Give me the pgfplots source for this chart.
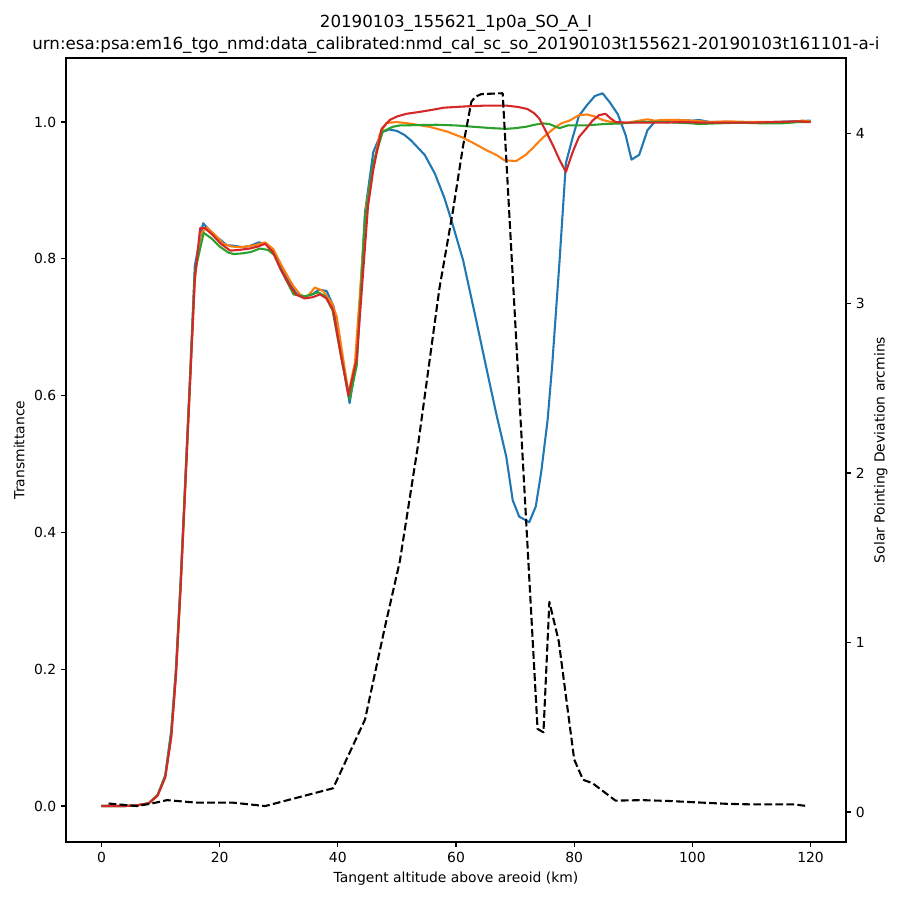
\documentclass[border=0pt]{standalone}
\usepackage{fontspec}
\setmainfont{DejaVu Sans}
\usepackage{pgfplots}
\pgfplotsset{compat=1.18}
\definecolor{cA}{HTML}{1F77B4}
\definecolor{cB}{HTML}{FF7F0E}
\definecolor{cC}{HTML}{2CA02C}
\definecolor{cD}{HTML}{D62728}
\pgfplotsset{
  myax/.style={
    at={(0,0)}, anchor=south west, scale only axis,
    width=561.6pt, height=564.48pt,
    xmin=-6, xmax=126,
    tick align=outside, major tick length=3.5pt,
    major tick style={line width=0.8pt, black},
    axis line style={line width=0.8pt},
    tick label style={font=\fontsize{10}{12}\selectfont},
    label style={font=\fontsize{10}{12}\selectfont},
    /pgf/number format/assume math mode=true,
  }
}
\begin{document}
\begin{tikzpicture}
\begin{axis}[myax, name=ax,
  ymin=-0.0526, ymax=1.0936,
  xtick={0,20,40,60,80,100,120},
  ytick={0,0.2,0.4,0.6,0.8,1.0},
  xtick pos=bottom, ytick pos=left,
  yticklabel style={/pgf/number format/.cd, fixed, fixed zerofill, precision=1},
  xlabel={Tangent altitude above areoid (km)},
  ylabel={Transmittance},
  every axis plot/.append style={no marks, line width=1.5pt, line join=round},
]
% blue
\addplot[cA] coordinates {
(0,0) (2,0) (4,0) (6,0.001) (8,0.004) (9.5,0.016) (10.8,0.045) (11.8,0.11) (12.6,0.2) (13.4,0.33) (14.2,0.48) (15.0,0.63) (15.8,0.79)
(17.2,0.852) (18.5,0.84) (19.8,0.83) (21.2,0.82) (22.5,0.819) (23.9,0.817) (25.2,0.819) (26.6,0.824) (27.9,0.822) (29.1,0.812)
(30.5,0.787) (31.8,0.765) (33.1,0.748) (34.4,0.745) (35.7,0.748) (36.8,0.755) (38.1,0.753) (39.3,0.73) (40.6,0.66) (42.0,0.589)
(43.2,0.654) (44.6,0.868) (46.0,0.956) (47.4,0.985) (48.7,0.989) (50.0,0.987) (51.3,0.981) (52.4,0.973) (54.7,0.952) (56.4,0.925)
(58.0,0.89) (59.2,0.857) (61.2,0.798) (63.4,0.711) (65.1,0.642) (66.8,0.574) (68.5,0.511) (69.6,0.447) (70.7,0.423) (72.4,0.415)
(73.5,0.438) (74.4,0.487) (75.5,0.564) (76.3,0.647) (77.5,0.794) (78.6,0.94) (79.7,0.976) (80.8,1.009) (82.2,1.025) (83.5,1.038)
(84.8,1.042) (86.1,1.028) (87.4,1.011) (88.7,0.981) (89.7,0.945) (91.0,0.952) (92.4,0.988) (93.6,1.0) (95,1.002) (97.7,1.003)
(100,1.002) (101.1,1.003) (103,1.0) (106,1.0) (110,0.999) (114,1.0) (117,1.001) (120,1.002)
};
% orange
\addplot[cB] coordinates {
(0,0) (2,0) (4,0) (6,0.001) (8,0.004) (9.5,0.016) (10.8,0.043) (11.8,0.1) (12.6,0.19) (13.4,0.32) (14.2,0.47) (15.0,0.62) (15.8,0.77)
(16.7,0.835) (17.8,0.846) (19.2,0.835) (20.6,0.822) (22.0,0.818) (23.3,0.817) (24.6,0.818) (26.0,0.82) (27.7,0.824) (29.1,0.814)
(30.5,0.79) (31.8,0.77) (32.5,0.76) (33.6,0.748) (34.7,0.743) (36.1,0.758) (37.5,0.753) (39.0,0.735) (39.8,0.716) (40.8,0.66)
(41.8,0.604) (42.9,0.648) (44.8,0.877) (46.0,0.936) (47.1,0.982) (48.2,0.9985) (49.9,1.0) (52,0.998) (55.5,0.993) (58.5,0.986)
(61.2,0.977) (63,0.969) (65.1,0.959) (66.8,0.952) (68.2,0.944) (70.2,0.943) (71.8,0.952) (73,0.962) (74.1,0.972) (75.2,0.981)
(76.5,0.99) (77.8,0.998) (79.2,1.002) (80.8,1.01) (82.2,1.011) (83.5,1.008) (84.8,1.003) (86.2,1.0) (87.6,0.998) (89,0.999)
(91.0,1.002) (92.4,1.004) (93.6,1.002) (95,1.003) (97.4,1.003) (100,1.002) (103,1.0) (106,1.001) (110,1.0) (114,1.0) (117,1.0)
(118.5,1.002) (120,1.001)
};
% green
\addplot[cC] coordinates {
(0,0) (2,0) (4,0) (6,0.001) (8,0.004) (9.5,0.016) (10.8,0.044) (11.8,0.105) (12.6,0.195) (13.4,0.325) (14.2,0.475) (15.0,0.625) (15.8,0.78)
(17.3,0.838) (18.6,0.83) (20.0,0.818) (21.5,0.809) (22.4,0.807) (23.9,0.808) (25.3,0.81) (26.8,0.815) (28.2,0.813) (29.3,0.805)
(30.6,0.78) (31.8,0.76) (32.5,0.748) (34.4,0.745) (35.6,0.748) (36.7,0.751) (37.9,0.745) (39.1,0.725) (40.5,0.66) (42.0,0.595)
(43.2,0.644) (44.6,0.86) (46.0,0.94) (47.6,0.986) (49.3,0.993) (50.5,0.995) (56.7,0.996) (60,0.995) (63,0.993) (66.2,0.991)
(68.5,0.99) (70,0.991) (71.8,0.993) (73.3,0.996) (74.7,0.998) (75.8,0.997) (77.5,0.991) (78.9,0.995) (82,0.995) (85,0.997)
(88,0.998) (91,1.0) (95,1.0) (100,0.998) (101,0.997) (104,0.998) (108,0.999) (112,0.998) (115,0.998) (118,1.0) (120,1.0)
};
% red
\addplot[cD] coordinates {
(0,0) (2,0) (4,0) (6,0.001) (8,0.004) (9.5,0.015) (10.8,0.042) (11.8,0.1) (12.6,0.19) (13.4,0.32) (14.2,0.47) (15.0,0.62) (15.8,0.77)
(16.7,0.845) (17.5,0.845) (18.8,0.835) (20.2,0.822) (21.8,0.812) (23.3,0.813) (25.1,0.815) (26.5,0.818) (27.7,0.822) (29.0,0.81)
(30.3,0.785) (31.6,0.765) (32.9,0.748) (34.4,0.742) (35.8,0.744) (37.0,0.748) (38.1,0.742) (39.2,0.725) (40.5,0.66) (41.8,0.6)
(43.2,0.654) (45.1,0.876) (46.0,0.93) (47.4,0.99) (48.8,1.003) (50.0,1.008) (51.6,1.012) (54,1.015) (56.1,1.018) (58,1.021)
(60,1.022) (62,1.023) (65,1.024) (68.5,1.024) (70.5,1.022) (72.1,1.019) (73.2,1.013) (74.1,1.005) (75.3,0.985) (76.4,0.966)
(77.5,0.945) (78.6,0.927) (79.7,0.955) (80.8,0.978) (82.0,0.99) (83.1,1.002) (84.2,1.01) (85.3,1.012) (86.2,1.005) (87.0,1.0)
(89,0.999) (91,0.999) (95,0.999) (98,1.0) (102,0.999) (106,0.999) (110,0.999) (114,1.0) (118,1.001) (120,1.0)
};
\end{axis}
\begin{axis}[myax,
  ymin=-0.177, ymax=4.448,
  axis x line=none, axis y line*=right,
  ytick={0,1,2,3,4},
  ylabel={Solar Pointing Deviation arcmins},
  ylabel near ticks,
]
\addplot[black, no marks, line width=1.5pt, line join=round, dash pattern=on 5.55pt off 2.4pt] coordinates {
(1.2,0.05) (6.0,0.035) (8.5,0.05) (11.1,0.07) (16.1,0.055) (22.3,0.055) (27.7,0.035) (39.2,0.14) (44.6,0.545)
(47.9,1.08) (50.5,1.48) (53.6,2.17) (57.2,3.09) (59.5,3.55) (61.2,3.93) (62.6,4.19) (63.3,4.22) (64.3,4.235) (67.9,4.24)
(73.8,0.49) (74.8,0.47) (75.8,1.24) (77.4,1.005) (80.0,0.31) (81.5,0.19) (83.1,0.17) (87.0,0.067) (91.5,0.07) (96,0.065)
(100,0.058) (106,0.048) (110,0.045) (117,0.045) (119.5,0.035)
};
\end{axis}
\node[font=\fontsize{12}{14.4}\selectfont, anchor=base, yshift=5.8pt] at (ax.north) {urn:esa:psa:em16\_tgo\_nmd:data\_calibrated:nmd\_cal\_sc\_so\_20190103t155621-20190103t161101-a-i};
\node[font=\fontsize{12}{14.4}\selectfont, anchor=base, yshift=21.6pt] at (ax.north) {20190103\_155621\_1p0a\_SO\_A\_I};
\pgfresetboundingbox
\useasboundingbox (-47.52pt,-41.76pt) rectangle (600.48pt,606.24pt);
\end{tikzpicture}
\end{document}
